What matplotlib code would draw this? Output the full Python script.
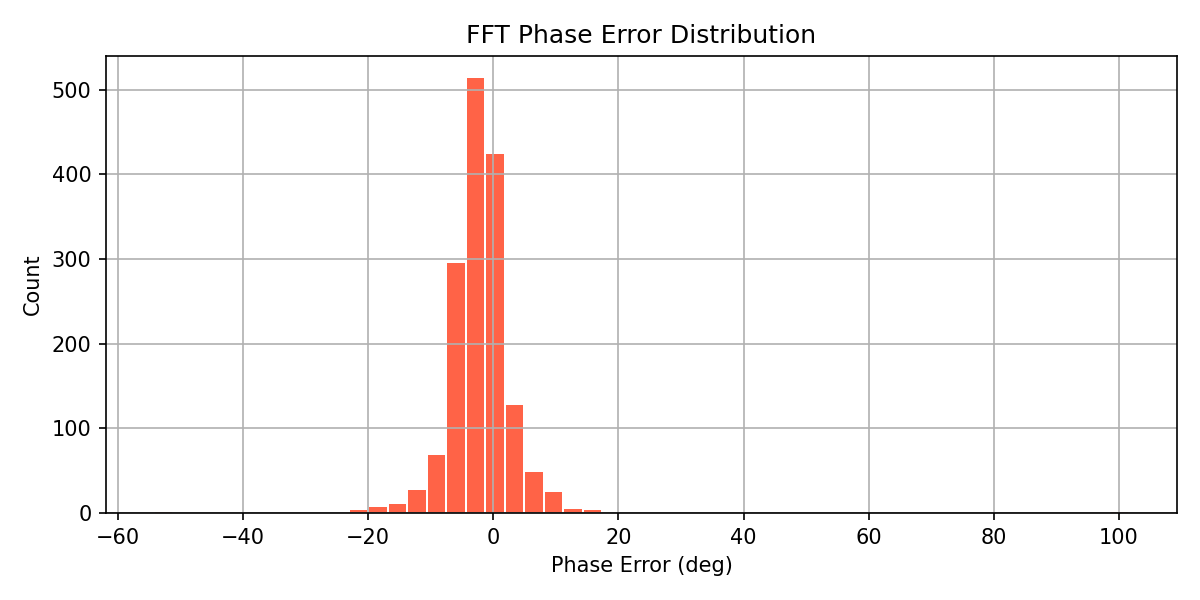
import numpy as np
import matplotlib
matplotlib.use("Agg")
import matplotlib.pyplot as plt

# Histogram definition
bin_start = -54.32
bin_width = 3.12
n_bins = 50
counts = [1] + [0] * 9 + [4, 7, 11, 27, 68, 295, 514, 424, 127, 48, 25, 5, 4] + [0] * 26 + [1]

edges = bin_start + bin_width * np.arange(n_bins + 1)
centers = (edges[:-1] + edges[1:]) / 2

fig, ax = plt.subplots(figsize=(8, 4), dpi=150)
ax.hist(centers, bins=edges, weights=counts, color="tomato", rwidth=0.9)
ax.set_title("FFT Phase Error Distribution")
ax.set_xlabel("Phase Error (deg)")
ax.set_ylabel("Count")
ax.grid(True)
fig.subplots_adjust(left=0.0883, right=0.9808, top=0.9067, bottom=0.145)
fig.savefig("out.png")
